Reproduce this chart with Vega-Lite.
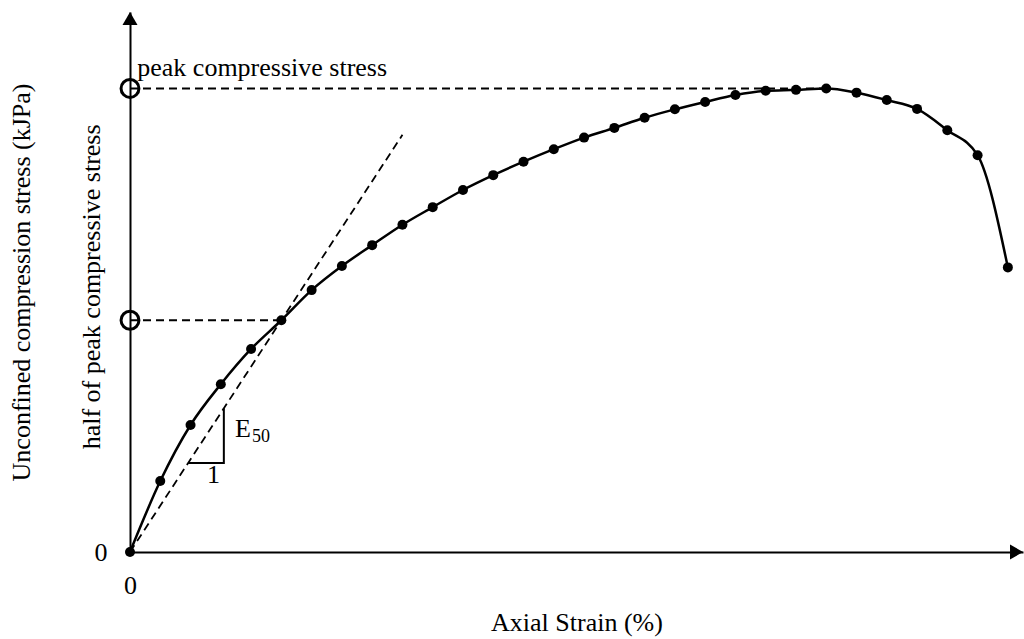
{
  "$schema": "https://vega.github.io/schema/vega-lite/v6.json",
  "width": 893,
  "height": 540,
  "autosize": {"type": "none"},
  "padding": {"left": 130, "top": 12, "right": 1, "bottom": 87},
  "background": "white",
  "config": {
    "view": {"stroke": null},
    "font": "Liberation Serif",
    "text": {"font": "Liberation Serif", "color": "black"}
  },
  "datasets": {
    "curve": [
      {"strain": 0.0, "stress": 0.0},
      {"strain": 0.5, "stress": 15.3},
      {"strain": 1.0, "stress": 27.4},
      {"strain": 1.5, "stress": 36.2},
      {"strain": 2.0, "stress": 43.8},
      {"strain": 2.5, "stress": 50.0},
      {"strain": 3.0, "stress": 56.5},
      {"strain": 3.5, "stress": 61.7},
      {"strain": 4.0, "stress": 66.2},
      {"strain": 4.5, "stress": 70.6},
      {"strain": 5.0, "stress": 74.4},
      {"strain": 5.5, "stress": 78.1},
      {"strain": 6.0, "stress": 81.3},
      {"strain": 6.5, "stress": 84.2},
      {"strain": 7.0, "stress": 86.9},
      {"strain": 7.5, "stress": 89.4},
      {"strain": 8.0, "stress": 91.5},
      {"strain": 8.5, "stress": 93.7},
      {"strain": 9.0, "stress": 95.5},
      {"strain": 9.5, "stress": 97.1},
      {"strain": 10.0, "stress": 98.6},
      {"strain": 10.5, "stress": 99.5},
      {"strain": 11.0, "stress": 99.7},
      {"strain": 11.5, "stress": 100.0},
      {"strain": 12.0, "stress": 99.1},
      {"strain": 12.5, "stress": 97.5},
      {"strain": 13.0, "stress": 95.6},
      {"strain": 13.5, "stress": 91.0},
      {"strain": 14.0, "stress": 85.6},
      {"strain": 14.5, "stress": 61.4}
    ],
    "guides": [
      {"guide": "peak", "strain": 0.0, "stress": 100.0},
      {"guide": "peak", "strain": 11.5, "stress": 100.0},
      {"guide": "half", "strain": 0.0, "stress": 50.0},
      {"guide": "half", "strain": 2.5, "stress": 50.0},
      {"guide": "secant", "strain": 0.0, "stress": 0.0},
      {"guide": "secant", "strain": 4.5, "stress": 90.0}
    ],
    "slope": [
      {"step": 1, "strain": 0.96, "stress": 19.2},
      {"step": 2, "strain": 1.55, "stress": 19.2},
      {"step": 3, "strain": 1.55, "stress": 31.0}
    ],
    "markers": [
      {"strain": 0.0, "stress": 100.0},
      {"strain": 0.0, "stress": 50.0}
    ],
    "arrows": [
      {"axis": "x", "strain": 14.643, "stress": 0.0},
      {"axis": "y", "strain": 0.0, "stress": 115.1}
    ],
    "notes": [
      {"label": "peak compressive stress", "strain": 0.12, "stress": 102.7},
      {"label": "E", "strain": 1.734, "stress": 24.8},
      {"label": "1", "strain": 1.272, "stress": 14.9}
    ],
    "subscript": [
      {"label": "50", "strain": 2.015, "stress": 23.7}
    ],
    "sideNote": [
      {"label": "half of peak compressive stress", "strain": -0.63, "stress": 57.2}
    ]
  },
  "layer": [
    {
      "data": {"name": "curve"},
      "mark": {"type": "line", "color": "black", "strokeWidth": 2.5, "interpolate": "monotone"},
      "encoding": {
        "x": {
          "field": "strain", "type": "quantitative",
          "scale": {"domain": [0, 14.75], "nice": false, "zero": false},
          "axis": {
            "values": [0], "format": "d", "grid": false, "ticks": false, "tickSize": 0,
            "labelFlush": false,
            "domainColor": "black", "domainWidth": 2,
            "labelFontSize": 26, "labelColor": "black", "labelPadding": 20, "labelFont": "Liberation Serif",
            "title": "Axial Strain (%)", "titleFontSize": 26, "titleFontWeight": "normal",
            "titleColor": "black", "titleFont": "Liberation Serif", "titlePadding": 11
          }
        },
        "y": {
          "field": "stress", "type": "quantitative",
          "scale": {"domain": [0, 116.5], "nice": false, "zero": false},
          "axis": {
            "values": [0], "format": "d", "grid": false, "ticks": false, "tickSize": 0,
            "labelFlush": false,
            "domainColor": "black", "domainWidth": 2,
            "labelFontSize": 26, "labelColor": "black", "labelPadding": 23, "labelFont": "Liberation Serif",
            "title": "Unconfined compression stress (kJPa)", "titleFontSize": 26, "titleFontWeight": "normal",
            "titleColor": "black", "titleFont": "Liberation Serif", "titlePadding": 60
          }
        }
      }
    },
    {
      "data": {"name": "curve"},
      "mark": {"type": "point", "filled": true, "color": "black", "size": 100, "opacity": 1},
      "encoding": {
        "x": {"field": "strain", "type": "quantitative"},
        "y": {"field": "stress", "type": "quantitative"}
      }
    },
    {
      "data": {"name": "guides"},
      "mark": {"type": "line", "color": "black", "strokeWidth": 1.8, "strokeDash": [8, 5]},
      "encoding": {
        "x": {"field": "strain", "type": "quantitative"},
        "y": {"field": "stress", "type": "quantitative"},
        "detail": {"field": "guide"}
      }
    },
    {
      "data": {"name": "slope"},
      "mark": {"type": "line", "color": "black", "strokeWidth": 2},
      "encoding": {
        "x": {"field": "strain", "type": "quantitative"},
        "y": {"field": "stress", "type": "quantitative"},
        "order": {"field": "step"}
      }
    },
    {
      "data": {"name": "markers"},
      "mark": {"type": "point", "filled": false, "color": "black", "size": 320, "strokeWidth": 3, "opacity": 1},
      "encoding": {
        "x": {"field": "strain", "type": "quantitative"},
        "y": {"field": "stress", "type": "quantitative"}
      }
    },
    {
      "data": {"name": "arrows"},
      "mark": {"type": "point", "filled": true, "color": "black", "size": 225, "opacity": 1},
      "encoding": {
        "x": {"field": "strain", "type": "quantitative"},
        "y": {"field": "stress", "type": "quantitative"},
        "shape": {
          "field": "axis", "type": "nominal",
          "scale": {"domain": ["x", "y"], "range": ["triangle-right", "triangle-up"]},
          "legend": null
        }
      }
    },
    {
      "data": {"name": "notes"},
      "mark": {"type": "text", "fontSize": 26, "align": "left", "baseline": "alphabetic"},
      "encoding": {
        "x": {"field": "strain", "type": "quantitative"},
        "y": {"field": "stress", "type": "quantitative"},
        "text": {"field": "label"}
      }
    },
    {
      "data": {"name": "subscript"},
      "mark": {"type": "text", "fontSize": 18, "align": "left", "baseline": "alphabetic"},
      "encoding": {
        "x": {"field": "strain", "type": "quantitative"},
        "y": {"field": "stress", "type": "quantitative"},
        "text": {"field": "label"}
      }
    },
    {
      "data": {"name": "sideNote"},
      "mark": {"type": "text", "fontSize": 26, "align": "center", "baseline": "middle", "angle": 270},
      "encoding": {
        "x": {"field": "strain", "type": "quantitative"},
        "y": {"field": "stress", "type": "quantitative"},
        "text": {"field": "label"}
      }
    }
  ]
}
